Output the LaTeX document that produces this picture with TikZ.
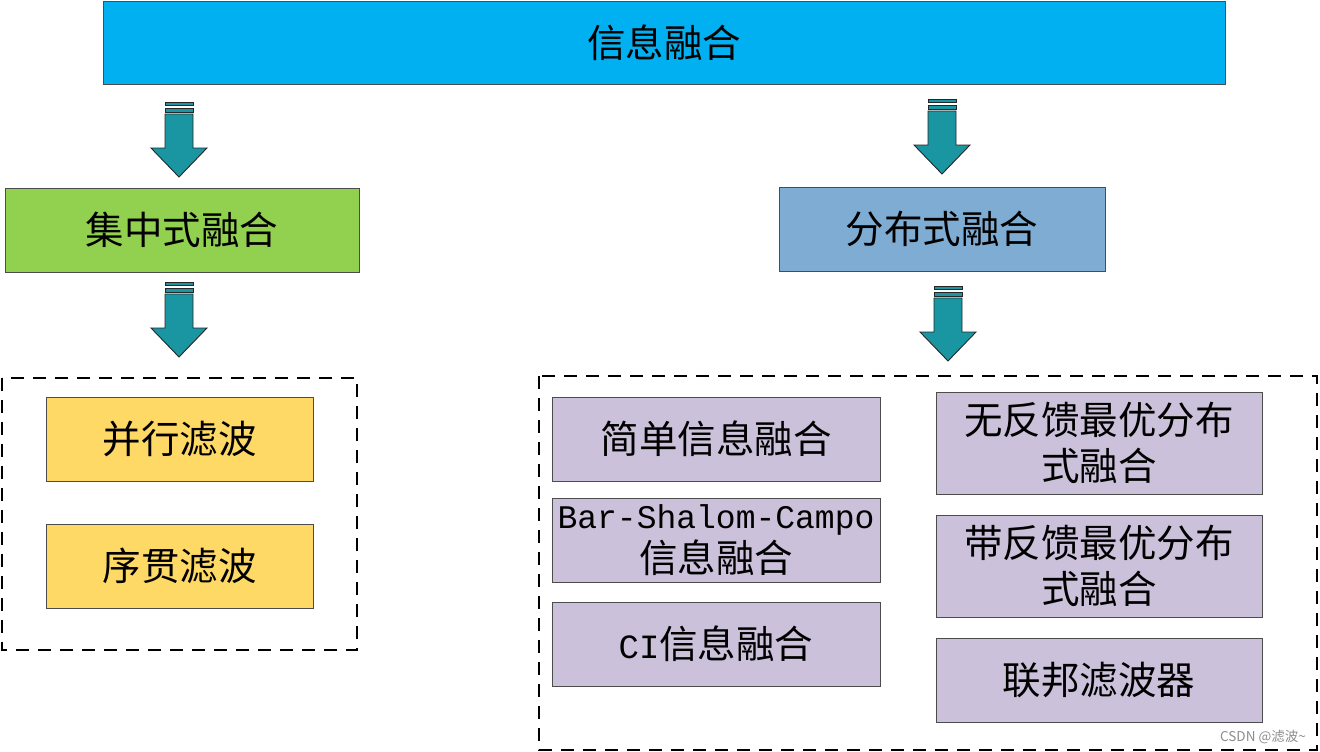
\documentclass[tikz,border=0pt]{standalone}
\usepackage{fontspec}
\newfontfamily\cjk{Noto Sans CJK SC}
\newfontfamily\monofnt{Liberation Mono}
\definecolor{topblue}{HTML}{00B0F0}
\definecolor{cgreen}{HTML}{92D050}
\definecolor{dblue}{HTML}{7FACD3}
\definecolor{cyellow}{HTML}{FFD966}
\definecolor{cpurple}{HTML}{CCC1DA}
\definecolor{cteal}{HTML}{1A96A2}
\tikzset{
  boxstyle/.style={draw=black!70, line width=0.8pt, inner sep=0pt, align=center,
    font=\cjk\fontsize{38.5}{46}\selectfont},
  dashbox/.style={draw=black, line width=2.2pt, dash pattern=on 13pt off 9pt},
  arrowpart/.style={fill=cteal, draw=black!85, line width=0.9pt},
  downarrow/.pic={
    \filldraw[arrowpart] (-14,0) rectangle (14,3);
    \filldraw[arrowpart] (-14,6) rectangle (14,10);
    \filldraw[arrowpart] (-14,12) -- (-14,46) -- (-28,46) -- (0,75) -- (28,46) -- (14,46) -- (14,12) -- cycle;
  }
}
\begin{document}
\begin{tikzpicture}[x=1pt,y=-1pt]
\useasboundingbox (0,0) rectangle (1320,752);
% top
\node[boxstyle, fill=topblue, minimum width=1122pt, minimum height=83pt] (top) at (664,42.5) {信息融合};
% arrows
\pic at (179,102) {downarrow};
\pic at (942,99) {downarrow};
\pic at (179,282) {downarrow};
\pic at (948,286) {downarrow};
% second level
\node[boxstyle, fill=cgreen, minimum width=354pt, minimum height=84pt] (cen) at (182,230) {集中式融合};
\node[boxstyle, fill=dblue, minimum width=326pt, minimum height=84pt] (dis) at (942,229) {分布式融合};
% dashed containers
\draw[dashbox] (2,378) rectangle (357,650);
\draw[dashbox] (539,376) rectangle (1317,750);
% left group
\node[boxstyle, fill=cyellow, minimum width=267pt, minimum height=84pt] (par) at (179.5,439) {并行滤波};
\node[boxstyle, fill=cyellow, minimum width=267pt, minimum height=84pt] (seq) at (179.5,566) {序贯滤波};
% right group, left column
\node[boxstyle, fill=cpurple, minimum width=328pt, minimum height=84pt] (simple) at (716,439) {简单信息融合};
\node[boxstyle, fill=cpurple, minimum width=328pt, minimum height=84pt] (bsc) at (716,540) {{\monofnt\fontsize{33}{43}\selectfont Bar-Shalom-Campo}\\[-2pt]信息融合};
\node[boxstyle, fill=cpurple, minimum width=328pt, minimum height=84pt] (ci) at (716,644) {{\monofnt\fontsize{34}{43}\selectfont CI}信息融合};
% right column
\node[boxstyle, fill=cpurple, minimum width=326pt, minimum height=102pt] (nofb) at (1099,443) {无反馈最优分布\\式融合};
\node[boxstyle, fill=cpurple, minimum width=326pt, minimum height=102pt] (fb) at (1099,566) {带反馈最优分布\\式融合};
\node[boxstyle, fill=cpurple, minimum width=326pt, minimum height=84pt] (fed) at (1099,680) {联邦滤波器};
% watermark
\node[font=\cjk\fontsize{13.5}{15}\selectfont, text=black!45, anchor=east, inner sep=0pt] (wm) at (1306,737) {CSDN @滤波\textasciitilde};
\end{tikzpicture}
\end{document}
